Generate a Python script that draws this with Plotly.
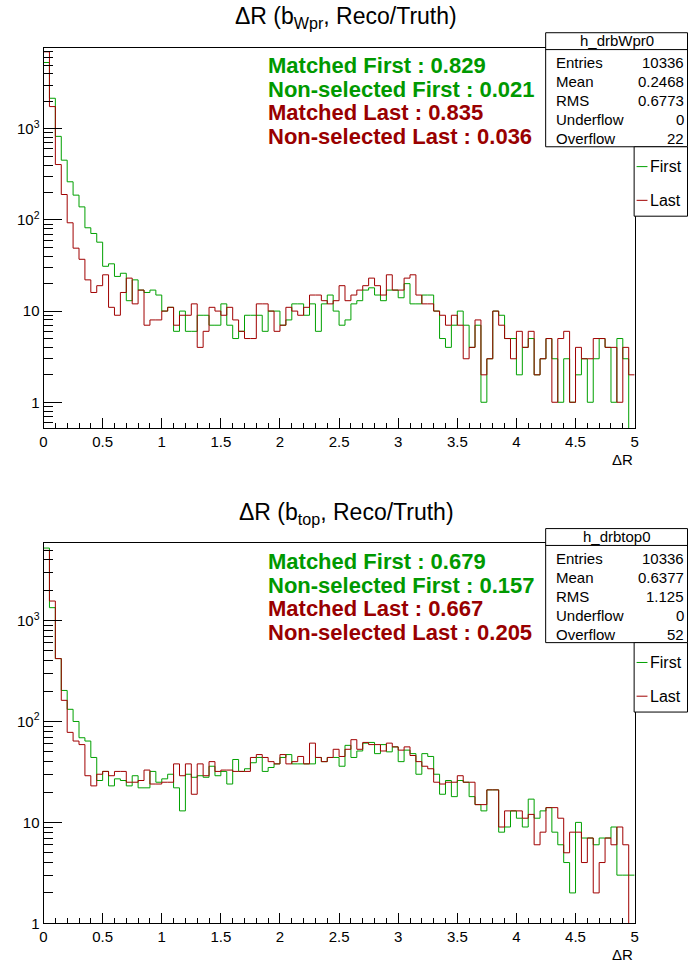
import numpy as np
import plotly.graph_objects as go

W, H = 692, 967

# 100 bins of width 0.05 over dR in [0, 5]
bin_edges = np.linspace(0.0, 5.0, 101)

# b from W' : first / last candidate
wpr_first = [
    5330, 2160, 825, 452, 262, 187, 139, 82, 71, 57,
    31, 33, 24, 26, 13, 22, 17, 16, 17, 15,
    10, 11, 6, 10, 6, 6, 9, 9, 7, 7,
    12, 7, 5, 6, 9, 9, 9, 6, 10, 10,
    7, 8, 12, 12, 9, 12, 6, 12, 15, 10,
    7, 8, 12, 13, 17, 18, 15, 13, 17, 17,
    14, 20, 12, 12, 15, 15, 10, 5, 4, 7,
    10, 7, 4, 7, 1, 3, 10, 9, 5, 5,
    2, 4, 5, 2, 3, 5, 3, 1, 3, 1,
    2, 3, 1, 3, 5, 4, 1, 5, 3, 0,
]
wpr_last = [
    6980, 1750, 405, 190, 93, 49, 37, 22, 16, 19,
    25, 11, 9, 16, 23, 12, 17, 7, 8, 8,
    10, 11, 7, 9, 9, 12, 4, 6, 11, 10,
    9, 11, 8, 6, 5, 5, 12, 12, 10, 6,
    7, 11, 10, 9, 11, 15, 15, 13, 12, 13,
    19, 13, 15, 17, 19, 23, 19, 15, 25, 17,
    17, 23, 25, 15, 12, 12, 10, 9, 7, 9,
    7, 3, 4, 8, 2, 3, 10, 7, 5, 3,
    6, 4, 6, 2, 3, 5, 1, 5, 6, 1,
    4, 3, 3, 5, 5, 4, 4, 1, 4, 2,
]

# b from top : first / last candidate
top_first = [
    5230, 1342, 420, 203, 132, 100, 69, 64, 44, 26,
    32, 23, 27, 26, 23, 29, 22, 22, 32, 25,
    27, 30, 22, 13, 30, 28, 29, 28, 36, 29,
    32, 24, 42, 32, 34, 39, 44, 32, 35, 38,
    44, 47, 38, 38, 38, 38, 44, 40, 44, 44,
    36, 58, 44, 51, 61, 62, 48, 59, 50, 56,
    40, 52, 48, 30, 48, 45, 30, 19, 26, 18,
    26, 25, 18, 15, 13, 21, 21, 8, 9, 13,
    11, 9, 17, 11, 13, 14, 8, 6, 4, 2,
    10, 7, 7, 6, 7, 7, 9, 3, 3, 3,
]
top_last = [
    4960, 1561, 420, 162, 78, 64, 59, 29, 23, 30,
    32, 29, 32, 32, 25, 25, 26, 33, 24, 24,
    25, 25, 38, 29, 38, 19, 38, 29, 40, 32,
    33, 33, 32, 32, 32, 44, 47, 44, 40, 38,
    47, 38, 40, 45, 38, 61, 44, 40, 44, 53,
    45, 53, 66, 53, 62, 59, 59, 51, 61, 56,
    52, 56, 46, 40, 36, 34, 25, 24, 25, 25,
    29, 25, 25, 15, 15, 21, 21, 9, 13, 13,
    13, 11, 12, 6, 8, 14, 14, 11, 5, 8,
    8, 4, 7, 2, 4, 7, 6, 9, 6, 0,
]

x_tick_vals = [0, 0.5, 1, 1.5, 2, 2.5, 3, 3.5, 4, 4.5, 5]
x_tick_text = ["0", "0.5", "1", "1.5", "2", "2.5", "3", "3.5", "4", "4.5", "5"]
y_tick_vals = [1, 10, 100, 1000]
y_tick_text = ["1", "10", "10<sup>2</sup>", "10<sup>3</sup>"]

panels = [
    dict(name="h_drbWpr0", sub="Wpr", first=wpr_first, last=wpr_last,
         eff=["Matched First : 0.829", "Non-selected First : 0.021",
              "Matched Last : 0.835", "Non-selected Last : 0.036"],
         stats=[("Entries", "10336"), ("Mean", "0.2468"), ("RMS", "0.6773"),
                ("Underflow", "0"), ("Overflow", "22")],
         top=48, bottom=432, ylog=(-0.287, 3.89)),
    dict(name="h_drbtop0", sub="top", first=top_first, last=top_last,
         eff=["Matched First : 0.679", "Non-selected First : 0.157",
              "Matched Last : 0.667", "Non-selected Last : 0.205"],
         stats=[("Entries", "10336"), ("Mean", "0.6377"), ("RMS", "1.125"),
                ("Underflow", "0"), ("Overflow", "52")],
         top=548, bottom=931, ylog=(0.0, 3.764)),
]

GREEN_LINE = "#00a000"
RED_LINE = "#a00000"
GREEN_TXT = "#009900"
RED_TXT = "#990000"
FONT = "Liberation Sans, Arial, sans-serif"

FRAME_L, FRAME_R = 40, 638


def fx(px):
    return px / W


def fy(py):
    return 1 - py / H


def minor_log_vals(lo, hi):
    vals = []
    for k in range(int(np.floor(lo)) - 1, int(np.ceil(hi)) + 1):
        for d in range(2, 10):
            v = d * 10.0 ** k
            if 10 ** lo <= v <= 10 ** hi:
                vals.append(v)
    return vals


def step_trace(counts, color, xa, ya, floor):
    c = np.asarray(counts, dtype=float)
    c = np.where(c > 0, c, floor)
    return go.Scatter(
        x=bin_edges, y=np.append(c, c[-1]), mode="lines",
        line=dict(color=color, width=1, shape="hv"),
        xaxis=xa, yaxis=ya, showlegend=False, hoverinfo="skip",
    )


fig = go.Figure()
shapes, annotations = [], []
layout_axes = {}

for i, p in enumerate(panels):
    n = "" if i == 0 else str(i + 1)
    xa, ya = "x" + n, "y" + n
    lo, hi = p["ylog"]
    floor = 10 ** lo * 0.3

    fig.add_trace(step_trace(p["first"], GREEN_LINE, xa, ya, floor))
    fig.add_trace(step_trace(p["last"], RED_LINE, xa, ya, floor))

    layout_axes["xaxis" + n] = dict(
        domain=[fx(FRAME_L), fx(FRAME_R)], range=[0, 5], anchor=ya,
        showline=True, linecolor="black", linewidth=1, mirror=True,
        ticks="inside", ticklen=10, tickcolor="black", tickwidth=1,
        tickvals=x_tick_vals, ticktext=x_tick_text,
        minor=dict(tickmode="array", tickvals=[round(v * 0.1, 1) for v in range(51)],
                   ticks="inside", ticklen=5, tickcolor="black", showgrid=False),
        showgrid=False, zeroline=False,
        tickfont=dict(family=FONT, size=15, color="black"),
    )
    layout_axes["yaxis" + n] = dict(
        type="log", domain=[fy(p["bottom"]), fy(p["top"])], range=[lo, hi],
        anchor=xa, showline=True, linecolor="black", linewidth=1, mirror=True,
        ticks="inside", ticklen=18, tickcolor="black", tickwidth=1,
        tickvals=y_tick_vals, ticktext=y_tick_text,
        minor=dict(tickmode="array", tickvals=minor_log_vals(lo, hi),
                   ticks="inside", ticklen=9, tickcolor="black", showgrid=False),
        showgrid=False, zeroline=False,
        tickfont=dict(family=FONT, size=15, color="black"),
    )

    # panel title
    annotations.append(dict(
        text="\u0394R (b<sub>%s</sub>, Reco/Truth)" % p["sub"],
        x=fx(346), y=fy(p["top"] - 30), xref="paper", yref="paper",
        xanchor="center", yanchor="middle", showarrow=False,
        font=dict(family=FONT, size=23, color="black"),
    ))
    # x axis title
    annotations.append(dict(
        text="\u0394R", x=5, xref=xa, y=fy(p["bottom"] + 31), yref="paper",
        xanchor="right", yanchor="middle", showarrow=False,
        font=dict(family=FONT, size=15, color="black"),
    ))
    # matching efficiencies
    for j, (txt, col) in enumerate(zip(p["eff"], [GREEN_TXT, GREEN_TXT, RED_TXT, RED_TXT])):
        annotations.append(dict(
            text="<b>%s</b>" % txt, x=fx(265), y=fy(p["top"] + 18.5 + 23.6 * j),
            xref="paper", yref="paper", xanchor="left", yanchor="middle",
            showarrow=False, font=dict(family=FONT, size=22, color=col),
        ))

    # statistics box
    bt = p["top"] - 15
    shapes.append(dict(type="rect", xref="paper", yref="paper",
                       x0=fx(548), x1=fx(691.5), y0=fy(bt), y1=fy(bt + 115),
                       line=dict(color="black", width=1), fillcolor="white", layer="above"))
    shapes.append(dict(type="line", xref="paper", yref="paper",
                       x0=fx(548), x1=fx(691.5), y0=fy(bt + 17), y1=fy(bt + 17),
                       line=dict(color="black", width=1), layer="above"))
    annotations.append(dict(
        text=p["name"], x=fx(620), y=fy(bt + 8), xref="paper", yref="paper",
        xanchor="center", yanchor="middle", showarrow=False,
        font=dict(family=FONT, size=15, color="black"),
    ))
    for j, (lab, val) in enumerate(p["stats"]):
        yy = fy(bt + 29.7 + 19.3 * j)
        annotations.append(dict(text=lab, x=fx(556), y=yy, xref="paper", yref="paper",
                                xanchor="left", yanchor="middle", showarrow=False,
                                font=dict(family=FONT, size=15, color="black")))
        annotations.append(dict(text=val, x=fx(689.5), y=yy, xref="paper", yref="paper",
                                xanchor="right", yanchor="middle", showarrow=False,
                                font=dict(family=FONT, size=15, color="black")))

    # legend box
    lt = bt + 115
    shapes.append(dict(type="rect", xref="paper", yref="paper",
                       x0=fx(637.5), x1=fx(691.5), y0=fy(lt), y1=fy(lt + 70),
                       line=dict(color="black", width=1), fillcolor="white", layer="above"))
    for j, (lab, col) in enumerate([("First", GREEN_LINE), ("Last", RED_LINE)]):
        yl = lt + 20 + 34 * j
        shapes.append(dict(type="line", xref="paper", yref="paper",
                           x0=fx(640), x1=fx(651), y0=fy(yl), y1=fy(yl),
                           line=dict(color=col, width=1), layer="above"))
        annotations.append(dict(text=lab, x=fx(652), y=fy(yl), xref="paper", yref="paper",
                                xanchor="left", yanchor="middle", showarrow=False,
                                font=dict(family=FONT, size=16, color="black")))

fig.update_layout(
    width=W, height=H, margin=dict(l=0, r=0, t=0, b=0),
    paper_bgcolor="white", plot_bgcolor="white",
    showlegend=False, shapes=shapes, annotations=annotations,
    font=dict(family=FONT, color="black"),
    **layout_axes,
)

fig.write_html("out.html")
